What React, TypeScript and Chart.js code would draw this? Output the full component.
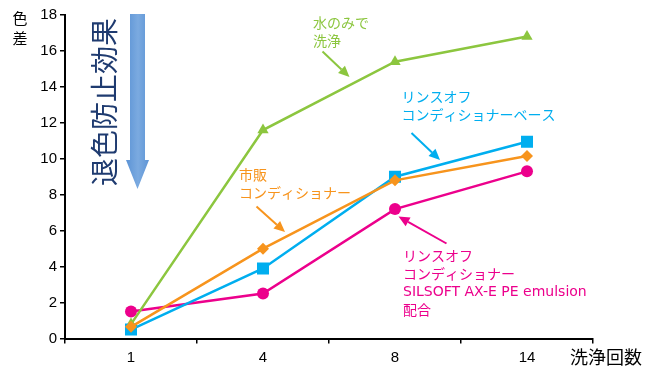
import React, { useEffect, useRef } from "react";
import { Chart, registerables } from "chart.js";

Chart.register(...registerables);

// ---- data ----
const categories = ["1", "4", "8", "14"];
const waterOnly = [0.8, 11.6, 15.4, 16.8];
const commercial = [0.65, 5.0, 8.8, 10.15];
const rinseBase = [0.5, 3.9, 9.0, 10.95];
const silsoft = [1.5, 2.5, 7.2, 9.3];
const yMin = 0;
const yMax = 18;
const yStep = 2;

const xTitle = "洗浄回数";
const yTitle = ["色", "差"];
const bigLabel = "退色防止効果";

const GREEN = "#8CC63F";
const ORANGE = "#F7941D";
const BLUE = "#00AEEF";
const PINK = "#EC008C";

const JP = '"Noto Sans CJK JP", "Noto Sans", sans-serif';
const LATIN = '"DejaVu Sans", "Noto Sans CJK JP", sans-serif';

type Note = {
  lines: string[];
  color: string;
  x: number;
  y: number;
  arrow: [number, number, number, number];
};

const notes: Note[] = [
  { lines: ["水のみで", "洗浄"], color: GREEN, x: 313, y: 23, arrow: [322.5, 51.5, 349.5, 77] },
  { lines: ["リンスオフ", "コンディショナーベース"], color: BLUE, x: 401.5, y: 97, arrow: [411.5, 133, 440, 160] },
  { lines: ["市販", "コンディショナー"], color: ORANGE, x: 239, y: 175, arrow: [256.5, 206.5, 285, 232] },
  {
    lines: ["リンスオフ", "コンディショナー", "SILSOFT AX-E PE emulsion", "配合"],
    color: PINK,
    x: 403,
    y: 256,
    arrow: [446.5, 243.5, 398.5, 216.5],
  },
];

function drawArrow(ctx: CanvasRenderingContext2D, x1: number, y1: number, x2: number, y2: number, color: string) {
  const ang = Math.atan2(y2 - y1, x2 - x1);
  const headLen = 11;
  const headW = 5;
  const bx = x2 - Math.cos(ang) * headLen;
  const by = y2 - Math.sin(ang) * headLen;
  ctx.save();
  ctx.strokeStyle = color;
  ctx.fillStyle = color;
  ctx.lineWidth = 2;
  ctx.beginPath();
  ctx.moveTo(x1, y1);
  ctx.lineTo(bx, by);
  ctx.stroke();
  ctx.beginPath();
  ctx.moveTo(x2, y2);
  ctx.lineTo(bx + Math.sin(ang) * headW, by - Math.cos(ang) * headW);
  ctx.lineTo(bx - Math.sin(ang) * headW, by + Math.cos(ang) * headW);
  ctx.closePath();
  ctx.fill();
  ctx.restore();
}

const hasCJK = (s: string) => /[\u3000-\u9fff\uff00-\uffef]/.test(s);

const annotationPlugin = {
  id: "annotations",
  afterDraw(chart: any) {
    const ctx: CanvasRenderingContext2D = chart.ctx;
    ctx.save();
    // notes
    ctx.textBaseline = "middle";
    ctx.textAlign = "left";
    for (const n of notes) {
      ctx.fillStyle = n.color;
      n.lines.forEach((l, i) => {
        ctx.font = hasCJK(l) ? `14px ${JP}` : `14px ${LATIN}`;
        ctx.fillText(l, n.x, n.y + i * 18);
      });
      drawArrow(ctx, n.arrow[0], n.arrow[1], n.arrow[2], n.arrow[3], n.color);
    }
    // axis titles
    ctx.fillStyle = "#000";
    ctx.font = `15px ${JP}`;
    ctx.textAlign = "center";
    yTitle.forEach((c, i) => ctx.fillText(c, 20, 18 + i * 20));
    ctx.font = `18px ${JP}`;
    ctx.textAlign = "left";
    ctx.fillText(xTitle, 570, 357);

    // big arrow
    const grad = ctx.createLinearGradient(127, 0, 149, 0);
    grad.addColorStop(0, "#5E95D6");
    grad.addColorStop(0.5, "#7BAAE0");
    grad.addColorStop(1, "#5E95D6");
    ctx.fillStyle = grad;
    ctx.beginPath();
    ctx.moveTo(130, 14);
    ctx.lineTo(145, 14);
    ctx.lineTo(145, 160);
    ctx.lineTo(149, 160);
    ctx.lineTo(137.5, 189);
    ctx.lineTo(126, 160);
    ctx.lineTo(130, 160);
    ctx.closePath();
    ctx.fill();

    // vertical label
    ctx.save();
    ctx.translate(104, 102);
    ctx.rotate(-Math.PI / 2);
    ctx.fillStyle = "#1F3B70";
    ctx.font = `28px ${JP}`;
    ctx.textAlign = "center";
    ctx.textBaseline = "middle";
    ctx.fillText(bigLabel, 0, 0);
    ctx.restore();

    ctx.restore();
  },
};

export default function App() {
  const ref = useRef<HTMLCanvasElement | null>(null);

  useEffect(() => {
    if (!ref.current) return;
    const mk = (label: string, data: number[], color: string, style: any, radius: number, order: number) => ({
      label,
      data,
      borderColor: color,
      backgroundColor: color,
      pointBackgroundColor: color,
      pointBorderColor: color,
      pointBorderWidth: 0,
      pointStyle: style,
      pointRadius: radius,
      borderWidth: 2.5,
      tension: 0,
      order,
    });
    const chart = new Chart(ref.current, {
      type: "line",
      data: {
        labels: categories,
        datasets: [
          mk("水のみで洗浄", waterOnly, GREEN, "triangle", 6.5, 2),
          mk("市販コンディショナー", commercial, ORANGE, "rectRot", 6, 0),
          mk("リンスオフコンディショナーベース", rinseBase, BLUE, "rect", 8.5, 1),
          mk("SILSOFT AX-E PE emulsion 配合", silsoft, PINK, "circle", 6, 3),
        ],
      },
      options: {
        responsive: false,
        animation: false,
        devicePixelRatio: 1,
        layout: { padding: { left: 0, right: 54, top: 15, bottom: 0 } },
        plugins: { legend: { display: false }, tooltip: { enabled: false } },
        scales: {
          x: {
            type: "category",
            offset: true,
            grid: { offset: true, drawOnChartArea: false, drawTicks: true, tickLength: 5, color: "#000", lineWidth: 1.5 },
            border: { display: true, color: "#000", width: 2 },
            ticks: { color: "#000", font: { family: '"Liberation Sans", Arial, sans-serif', size: 15 }, padding: 5 },
            afterFit: (s: any) => {
              s.height = 30.5;
            },
          },
          y: {
            min: yMin,
            max: yMax,
            grid: { drawOnChartArea: false, drawTicks: true, tickLength: 5, color: "#000", lineWidth: 1.5 },
            border: { display: true, color: "#000", width: 2 },
            ticks: { stepSize: yStep, color: "#000", font: { family: '"Liberation Sans", Arial, sans-serif', size: 15 }, padding: 3 },
            afterFit: (s: any) => {
              s.width = 65;
            },
          },
        },
      },
      plugins: [annotationPlugin],
    });
    return () => chart.destroy();
  }, []);

  return (
    <div style={{ position: "fixed", left: 0, top: 0, width: 647, height: 369, background: "#fff" }}>
      <canvas ref={ref} width={647} height={369} style={{ display: "block" }} />
    </div>
  );
}
